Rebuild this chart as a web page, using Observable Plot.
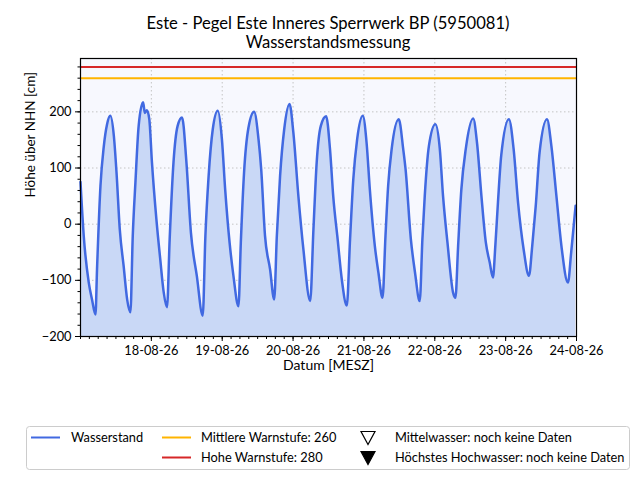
<!DOCTYPE html>
<html><head><meta charset="utf-8">
<script src="https://cdn.jsdelivr.net/npm/d3@7"></script>
<script src="https://cdn.jsdelivr.net/npm/@observablehq/plot@0.6"></script>
<style>
body{margin:0;background:#fff;font-family:Lato,"Open Sans",sans-serif;}
#wrap{position:relative;width:640px;height:480px;overflow:hidden;}
#chart{position:absolute;left:0;top:0;}
#title{position:absolute;left:70px;width:516px;top:14px;text-align:center;font-size:16.6px;line-height:19px;color:#000;}
#legend{position:absolute;left:26px;top:426px;}
</style></head>
<body><div id="wrap">
<div id="chart"></div>
<div id="title">Este - Pegel Este Inneres Sperrwerk BP (5950081)<br>Wasserstandsmessung</div>
<div id="legend"></div>
</div>
<script>
// Data: hours after 17-08-26 00:00 and water level in cm
const hours = [0,1.1,2.8,3.9,5.07,5.6,6.76,7.9,9.0,10.1,11.3,12.2,13.3,14.6,15.8,16.9,17.7,18.6,19.7,21.2,21.8,22.5,23.3,24.2,25.7,27.0,28.2,29.3,30.2,31.5,32.9,34.4,35.8,37.4,39.4,41.4,42.3,43.4,44.8,46.5,47.9,49.0,50.5,51.8,53.5,54.3,55.4,56.9,58.8,60.3,61.2,62.5,64.2,65.6,66.5,67.6,69.0,70.8,72.1,73.8,75.5,77.8,78.9,80.0,81.4,83.2,84.5,85.6,87.1,88.5,90.2,91.3,92.4,93.7,95.6,96.9,98.0,99.7,100.9,102.3,103.3,104.2,105.4,107.8,109.3,110.1,111.9,113.3,114.9,115.8,116.6,118.0,120.2,121.7,122.8,124.3,126.2,127.0,127.9,129.0,130.5,133.0,134.3,135.8,137.3,138.6,139.7,140.5,141.4,142.5,145.1,146.7,148.2,150.1,151.9,153.0,154.2,155.5,158.0,159.5,161.2,162.9,165.1,166.2,167.7];
const levels = [75,-21,-104,-134,-161,-80,68,139,178,193,157,92,-9,-74,-134,-157,-21,74,175,217,198,203,187,110,9,-62,-122,-148,-27,110,175,190,116,-15,-92,-163,-21,86,169,202,151,62,-33,-92,-146,-33,92,172,200,151,98,-21,-80,-134,-21,86,169,214,163,50,-45,-137,-9,110,175,192,134,50,-27,-98,-145,-27,80,151,193,145,62,-39,-86,-131,-21,68,134,187,134,98,-27,-86,-137,-27,50,139,178,134,50,-33,-122,-131,-39,62,134,188,145,50,-33,-68,-95,-39,39,122,187,134,39,-45,-92,-39,33,128,187,139,50,-39,-104,-50,33];
const warnLevels = [260, 280];
const warnColors = ["#ffb400", "#d62728"];
const yTickValues = [-200,-100,0,100,200];
const dayLabels = ["18-08-26","19-08-26","20-08-26","21-08-26","22-08-26","23-08-26","24-08-26"];
const legendLabels = ["Wasserstand","Mittlere Warnstufe: 260","Hohe Warnstufe: 280","Mittelwasser: noch keine Daten","Höchstes Hochwasser: noch keine Daten"];

const start = Date.UTC(2026,7,17);
const end = Date.UTC(2026,7,24);
const data = hours.map((h,i)=>({t:new Date(start+h*3600e3), v:levels[i]}));
const fmt = d3.utcFormat("%d-%m-%y");
const dayTicks = d3.utcDay.range(new Date(start), new Date(end+1)).filter(d=>dayLabels.includes(fmt(d)));
const hourTicks = d3.utcHour.every(3).range(new Date(start), new Date(end+1));
const yMinor = d3.range(-200, 295, 20);
const minus = d=> d<0 ? "\u2212"+(-d) : String(d);

const chart = Plot.plot({
  width:640, height:400,
  marginLeft:80, marginRight:64, marginTop:58, marginBottom:64,
  style:{fontFamily:"Lato, 'Open Sans', sans-serif", fontSize:"12.8px", background:"transparent", color:"#000", overflow:"visible"},
  x:{type:"utc", domain:[new Date(start), new Date(end)]},
  y:{domain:[-200,295]},
  marks:[
    Plot.frame({fill:"#f7f8fe"}),
    Plot.gridY(yTickValues,{stroke:"#c4c4c4", strokeOpacity:1, strokeDasharray:"1.5,2.5"}),
    Plot.gridX(dayTicks,{stroke:"#c4c4c4", strokeOpacity:1, strokeDasharray:"1.5,2.5"}),
    Plot.areaY(data,{x:"t", y1:-200, y2:"v", fill:"#c9d8f6", fillOpacity:1, curve:"monotone-x"}),
    Plot.lineY(data,{x:"t", y:"v", stroke:"#4169e1", strokeWidth:2.5, curve:"monotone-x"}),
    Plot.ruleY(warnLevels,{y:d=>d, stroke:(d,i)=>warnColors[i], strokeWidth:2}),
    Plot.axisY(yTickValues,{tickSize:5, tickPadding:4, tickFormat:minus, label:null, stroke:"#000"}),
    Plot.axisY(yMinor,{tickSize:2.5, text:null, label:null, stroke:"#000"}),
    Plot.axisX(dayTicks,{tickSize:5, tickPadding:4, tickFormat:fmt, label:null, stroke:"#000"}),
    Plot.axisX(hourTicks,{tickSize:3, text:null, label:null, stroke:"#000"}),
    Plot.frame({stroke:"#000", strokeWidth:1.2}),
    Plot.text(["Höhe über NHN [cm]"],{frameAnchor:"left", dx:-50, rotate:-90, fontSize:13.5, fill:"#000"}),
    Plot.text(["Datum [MESZ]"],{frameAnchor:"bottom", dy:33, fontSize:14, fill:"#000"})
  ]
});
document.getElementById("chart").appendChild(chart);

// Legend
const lg = d3.select("#legend").append("svg").attr("width",604).attr("height",44)
  .style("font-family","Lato, 'Open Sans', sans-serif").style("font-size","12.8px");
lg.append("rect").attr("x",0.5).attr("y",0.5).attr("width",603).attr("height",43).attr("rx",3)
  .attr("fill","#fff").attr("stroke","#cccccc");
const row1=11.5, row2=31.5;
const items = [
  {type:"line", color:"#4169e1", x:5, y:row1, tx:45},
  {type:"line", color:warnColors[0], x:136, y:row1, tx:175},
  {type:"line", color:warnColors[1], x:136, y:row2, tx:175},
  {type:"tri", fill:"#fff", x:342, y:row1, tx:369},
  {type:"tri", fill:"#000", x:342, y:row2, tx:369}
];
items.forEach((it,i)=>{
  if(it.type==="line"){
    lg.append("line").attr("x1",it.x).attr("x2",it.x+29).attr("y1",it.y).attr("y2",it.y)
      .attr("stroke",it.color).attr("stroke-width",2);
  } else {
    lg.append("path").attr("d",`M${it.x-7},${it.y-6}L${it.x+7},${it.y-6}L${it.x},${it.y+7}Z`)
      .attr("fill",it.fill).attr("stroke","#000").attr("stroke-width",1.2);
  }
  lg.append("text").attr("x",it.tx).attr("y",it.y).attr("dy","0.35em").attr("fill","#000").text(legendLabels[i]);
});
</script>
</body></html>
